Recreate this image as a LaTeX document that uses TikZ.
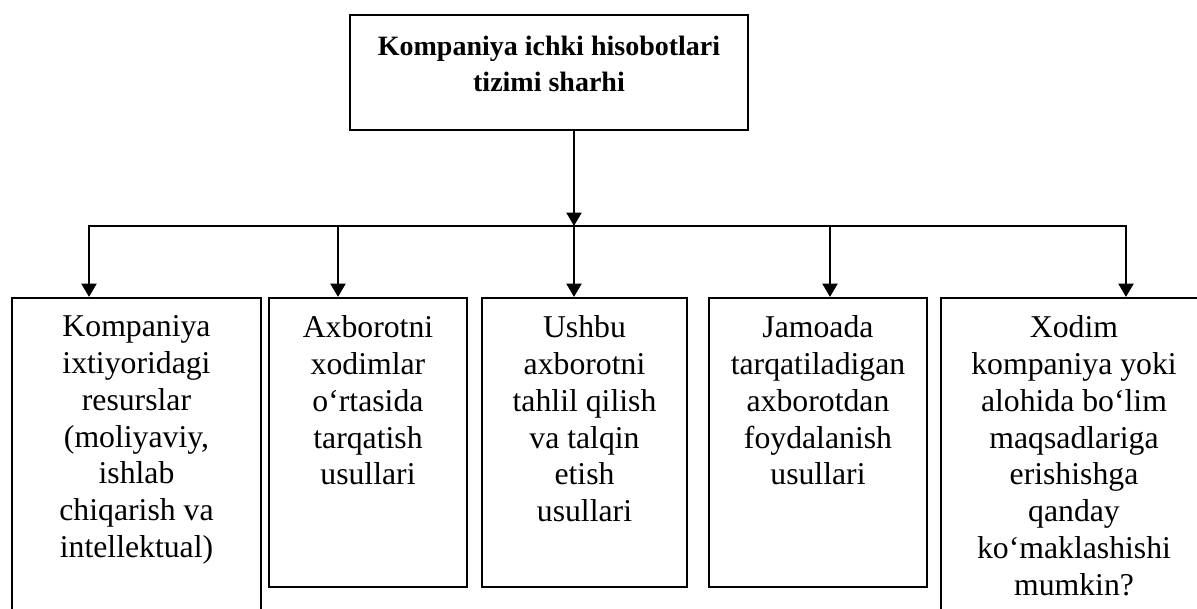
\documentclass[tikz,border=0pt]{standalone}
\usepackage{fontspec}
\setmainfont{Liberation Serif}
\usetikzlibrary{arrows.meta,fit}
\begin{document}
\begin{tikzpicture}[x=0.75pt,y=-0.75pt,
  boxst/.style={draw, line width=1.5pt, inner sep=0pt},
  txt/.style={anchor=north, inner sep=0pt, align=center, font=\fontsize{23.8}{27.6}\selectfont},
  ttl/.style={anchor=north, inner sep=0pt, align=center, font=\bfseries\fontsize{21}{27}\selectfont},
  ln/.style={line width=1.5pt},
  arr/.style={line width=2.2pt, -{Triangle[length=10pt,width=11pt]}}]
\clip (0,0) rectangle (1197,609);
% boxes
\node[boxst, fit={(350,15) (748,130)}] (top) {};
\node[boxst, fit={(12,298) (261,640)}] (b1) {};
\node[boxst, fit={(269,298) (467,587)}] (b2) {};
\node[boxst, fit={(482,298) (687,587)}] (b3) {};
\node[boxst, fit={(709,298) (927,587)}] (b4) {};
\node[boxst, fit={(941,298) (1215,640)}] (b5) {};
% texts
\node[ttl] (tt) at (549,35.5) {Kompaniya ichki hisobotlari\\tizimi sharhi};
\node[txt] (t1) at (136.5,315.5) {Kompaniya\\ixtiyoridagi\\resurslar\\(moliyaviy,\\ishlab\\chiqarish va\\intellektual)};
\node[txt] (t2) at (368,315.5) {Axborotni\\xodimlar\\o‘rtasida\\tarqatish\\usullari};
\node[txt] (t3) at (584.5,315.5) {Ushbu\\axborotni\\tahlil qilish\\va talqin\\etish\\usullari};
\node[txt] (t4) at (818,315.5) {Jamoada\\tarqatiladigan\\axborotdan\\foydalanish\\usullari};
\node[txt] (t5) at (1074,315.5) {Xodim\\kompaniya yoki\\alohida bo‘lim\\maqsadlariga\\erishishga\\qanday\\ko‘maklashishi\\mumkin?};
% connectors
\coordinate (j) at (574,226);
\coordinate (hl) at (88,226);
\coordinate (hr) at (1127,226);
\coordinate (a1) at (89,226);
\coordinate (a2) at (338,226);
\coordinate (a3) at (574,226);
\coordinate (a4) at (830,226);
\coordinate (a5) at (1126,226);
\draw[arr] (top.south -| j) -- (j);
\draw[ln] (hl) -- (hr);
\draw[arr] (a1) -- (a1 |- b1.north);
\draw[arr] (a2) -- (a2 |- b2.north);
\draw[arr] (a3) -- (a3 |- b3.north);
\draw[arr] (a4) -- (a4 |- b4.north);
\draw[arr] (a5) -- (a5 |- b5.north);
\end{tikzpicture}
\end{document}
